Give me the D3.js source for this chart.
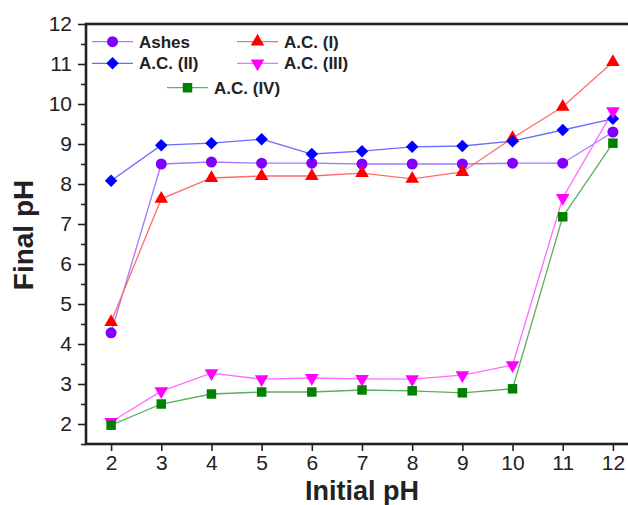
<!DOCTYPE html>
<html>
<head>
<meta charset="utf-8">
<script src="https://cdn.jsdelivr.net/npm/d3@7"></script>
<style>
  body { margin: 0; background: #fff; }
  svg { display: block; font-family: "Liberation Sans", Arial, sans-serif; }
</style>
</head>
<body>
<div id="chart"></div>
<script>
// data
const initialPH = [2, 3, 4, 5, 6, 7, 8, 9, 10, 11, 12];
const ashes = [4.28, 8.5, 8.55, 8.52, 8.52, 8.5, 8.5, 8.5, 8.52, 8.52, 9.3];
const acI   = [4.55, 7.63, 8.15, 8.2, 8.2, 8.27, 8.13, 8.3, 9.15, 9.93, 11.05];
const acII  = [8.08, 8.97, 9.02, 9.12, 8.75, 8.82, 8.93, 8.95, 9.07, 9.35, 9.63];
const acIII = [2.05, 2.82, 3.27, 3.12, 3.15, 3.13, 3.12, 3.22, 3.47, 7.65, 9.82];
const acIV  = [1.97, 2.5, 2.75, 2.8, 2.8, 2.85, 2.83, 2.78, 2.88, 7.18, 9.02];
const seriesNames = ["Ashes", "A.C. (I)", "A.C. (II)", "A.C. (III)", "A.C. (IV)"];
const yTicks = [2, 3, 4, 5, 6, 7, 8, 9, 10, 11, 12];

const width = 628, height = 505;

const svg = d3.select("#chart").append("svg")
  .attr("width", width)
  .attr("height", height);

const x = d3.scaleLinear().domain([1.5, 12.5]).range([86, 638]);
const y = d3.scaleLinear().domain([1.5, 12]).range([444, 24]);

const series = [
  { name: seriesNames[0], vals: ashes, line: "#a679ff", fill: "#8000ff", shape: d3.symbolCircle, size: 95, rot: 0 },
  { name: seriesNames[1], vals: acI, line: "#ff6b6b", fill: "#ff0000", shape: d3.symbolTriangle, size: 80, rot: 0 },
  { name: seriesNames[2], vals: acII, line: "#6b6bff", fill: "#0000ff", shape: d3.symbolSquare, size: 78, rot: 45 },
  { name: seriesNames[3], vals: acIII, line: "#ff6bff", fill: "#ff00ff", shape: d3.symbolTriangle, size: 80, rot: 180 },
  { name: seriesNames[4], vals: acIV, line: "#5fae5f", fill: "#008000", shape: d3.symbolSquare, size: 90, rot: 0 }
];

// axes
const yAxis = svg.append("g")
  .attr("transform", "translate(86,0)")
  .call(d3.axisLeft(y).tickValues(yTicks).tickSize(8).tickPadding(6).tickFormat(d3.format("d")));
const yMinor = svg.append("g")
  .attr("transform", "translate(86,0)")
  .call(d3.axisLeft(y).tickValues(d3.range(1.5, 12, 1)).tickSize(5).tickFormat(""));
const xAxis = svg.append("g")
  .attr("transform", "translate(0,444)")
  .call(d3.axisBottom(x).tickValues(initialPH).tickSize(7).tickPadding(4).tickFormat(d3.format("d")));

[yAxis, yMinor, xAxis].forEach(g => {
  g.select(".domain").remove();
  g.selectAll(".tick line").attr("stroke", "#222").attr("stroke-width", 1.6);
  g.selectAll(".tick text").attr("fill", "#222").style("font-size", "21px");
});

// frame
svg.append("rect")
  .attr("x", 86).attr("y", 24)
  .attr("width", 560).attr("height", 420)
  .attr("fill", "none")
  .attr("stroke", "#222")
  .attr("stroke-width", 2.6);

// lines and markers
const line = d3.line()
  .x((d, i) => x(initialPH[i]))
  .y(d => y(d));

series.forEach(s => {
  svg.append("path")
    .attr("d", line(s.vals))
    .attr("fill", "none")
    .attr("stroke", s.line)
    .attr("stroke-width", 1.3);
});

series.forEach(s => {
  svg.append("g").selectAll("path")
    .data(s.vals)
    .join("path")
    .attr("d", d3.symbol().type(s.shape).size(s.size))
    .attr("transform", (d, i) => `translate(${x(initialPH[i])},${y(d)}) rotate(${s.rot})`)
    .attr("fill", s.fill);
});

// legend
const legendPos = [
  { lx: 92, ly: 41.7 },
  { lx: 237, ly: 41.7 },
  { lx: 92, ly: 63.3 },
  { lx: 237, ly: 63.3 },
  { lx: 167, ly: 87.7 }
];

series.forEach((s, i) => {
  const p = legendPos[i];
  const g = svg.append("g");
  g.append("line")
    .attr("x1", p.lx).attr("x2", p.lx + 41)
    .attr("y1", p.ly).attr("y2", p.ly)
    .attr("stroke", s.line).attr("stroke-width", 1.3);
  g.append("path")
    .attr("d", d3.symbol().type(s.shape).size(s.size)())
    .attr("transform", `translate(${p.lx + 20.5},${p.ly}) rotate(${s.rot})`)
    .attr("fill", s.fill);
  g.append("text")
    .attr("x", p.lx + 47)
    .attr("y", p.ly + 6)
    .attr("fill", "#222")
    .style("font-size", "17px")
    .style("font-weight", "bold")
    .text(s.name);
});

// axis titles
svg.append("text")
  .attr("transform", "translate(33,235) rotate(-90)")
  .attr("text-anchor", "middle")
  .attr("fill", "#222")
  .style("font-size", "28px")
  .style("font-weight", "bold")
  .text("Final pH");

svg.append("text")
  .attr("x", 362)
  .attr("y", 500)
  .attr("text-anchor", "middle")
  .attr("fill", "#222")
  .style("font-size", "27px")
  .style("font-weight", "bold")
  .text("Initial pH");
</script>
</body>
</html>
